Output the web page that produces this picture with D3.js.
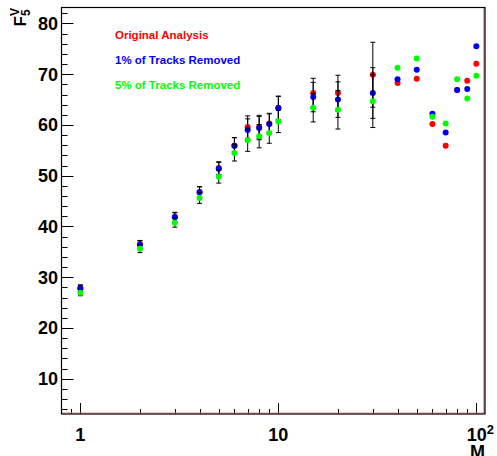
<!DOCTYPE html>
<html>
<head>
<meta charset="utf-8">
<script src="https://cdn.jsdelivr.net/npm/d3@7"></script>
<style>
  body { margin: 0; background: #fff; }
  text { font-family: "Liberation Sans", Arial, sans-serif; font-weight: bold; }
</style>
</head>
<body>
<div id="chart"></div>
<script>
// masses (x values, log axis)
var masses = [1, 2, 3, 4, 5, 6, 7, 8, 9, 10, 15, 20, 30, 40, 50, 60, 70, 80, 90, 100];

// F5V values for each analysis
var originalVals = [27.9, 36.5, 41.9, 46.8, 51.5, 55.9, 59.6, 59.6, 60.3, 63.4, 66.3, 66.3, 69.9, 68.25, 69.1, 60.2, 55.9, 66.9, 68.7, 72.05];
var removed1Vals = [27.8, 36.4, 41.8, 46.75, 51.4, 55.9, 59.0, 59.4, 60.2, 63.3, 65.5, 65.0, 66.3, 69.0, 70.9, 62.2, 58.5, 66.9, 67.1, 75.5];
var removed5Vals = [26.95, 35.6, 40.76, 45.6, 49.8, 54.5, 57.0, 57.8, 58.4, 60.7, 63.4, 63.0, 64.7, 71.3, 73.1, 61.6, 60.3, 69.0, 65.2, 69.7];

// symmetric errors (0 = no error bar drawn)
var originalErr = [0.6, 0.75, 0.9, 1.05, 1.25, 1.6, 2.2, 2.3, 2.0, 2.3, 2.9, 3.5, 6.4, 0, 0, 0, 0, 0, 0, 0];
var removed1Err = [0.6, 0.75, 0.9, 1.05, 1.25, 1.6, 2.2, 2.3, 2.0, 2.3, 2.9, 3.5, 5.0, 0, 0, 0, 0, 0, 0, 0];
var removed5Err = [0.6, 0.75, 0.9, 1.05, 1.25, 1.6, 2.2, 2.3, 2.0, 2.2, 2.8, 3.8, 5.2, 0, 0, 0, 0, 0, 0, 0];

var seriesNames = ["Original Analysis", "1% of Tracks Removed", "5% of Tracks Removed"];
var seriesColors = ["#ff0000", "#0000ff", "#00ff00"];

var yTicks = [10, 20, 30, 40, 50, 60, 70, 80];
var xTickLabels = [1, 10, 100];

var width = 497, height = 456;
var frame = {left: 61.5, right: 485, top: 7.5, bottom: 414};

var svg = d3.select("#chart")
  .append("svg")
    .attr("width", width)
    .attr("height", height);

var x = d3.scaleLog()
  .domain([0.803, 110.6])
  .range([frame.left, frame.right]);

var y = d3.scaleLinear()
  .domain([3.05, 83.15])
  .range([frame.bottom, frame.top]);

// Y axis ticks: major every 10, minor every 2
var yMinor = d3.range(4, 84, 2);
svg.append("g").selectAll("line")
  .data(yMinor)
  .enter().append("line")
    .attr("x1", frame.left)
    .attr("x2", function(d) { return frame.left + (d % 10 == 0 ? 12 : 6); })
    .attr("y1", function(d) { return Math.round(y(d)) + 0.5; })
    .attr("y2", function(d) { return Math.round(y(d)) + 0.5; })
    .style("stroke", "#000")
    .style("stroke-width", 1);

svg.append("g").selectAll("text")
  .data(yTicks)
  .enter().append("text")
    .attr("x", 58)
    .attr("y", function(d) { return y(d) + 6.5; })
    .attr("text-anchor", "end")
    .style("font-size", "18px")
    .text(function(d) { return d; });

// X axis ticks (log)
var xMinor = [0.9].concat(d3.range(2, 10), d3.range(20, 100, 10));
svg.append("g").selectAll("line")
  .data(xMinor.concat(xTickLabels))
  .enter().append("line")
    .attr("x1", function(d) { return Math.round(x(d)) + 0.5; })
    .attr("x2", function(d) { return Math.round(x(d)) + 0.5; })
    .attr("y1", frame.bottom)
    .attr("y2", function(d) { return frame.bottom - (xTickLabels.indexOf(d) >= 0 ? 11 : 5); })
    .style("stroke", "#000")
    .style("stroke-width", 1);

svg.append("text").attr("x", x(1)).attr("y", 441)
  .attr("text-anchor", "middle").style("font-size", "18px").text("1");
svg.append("text").attr("x", x(10)).attr("y", 441)
  .attr("text-anchor", "middle").style("font-size", "18px").text("10");
var hundred = svg.append("text").attr("x", x(100) + 4).attr("y", 441)
  .attr("text-anchor", "middle").style("font-size", "18px");
hundred.append("tspan").text("10");
hundred.append("tspan").attr("dy", -7).style("font-size", "13px").text("2");

// axis titles
svg.append("text")
  .attr("x", frame.right)
  .attr("y", 458)
  .attr("text-anchor", "end")
  .style("font-size", "18px")
  .text("M");

var ytitle = svg.append("text")
  .attr("transform", "translate(26,8) rotate(-90)")
  .attr("text-anchor", "end")
  .style("font-size", "17px");
ytitle.append("tspan").text("F");
ytitle.append("tspan").attr("dy", -7).style("font-size", "12px").text("V");
ytitle.append("tspan").attr("dx", -8).attr("dy", 11).style("font-size", "12px").text("5");

// data series: error bars then markers, one graph at a time
var allVals = [originalVals, removed1Vals, removed5Vals];
var allErrs = [originalErr, removed1Err, removed5Err];

allVals.forEach(function(vals, s) {
  var pts = masses.map(function(m, i) { return {m: m, v: vals[i], e: allErrs[s][i]}; });
  var g = svg.append("g");
  var withErr = pts.filter(function(d) { return d.e > 0; });

  g.selectAll(".ebar")
    .data(withErr)
    .enter().append("line")
      .attr("x1", function(d) { return x(d.m); })
      .attr("x2", function(d) { return x(d.m); })
      .attr("y1", function(d) { return y(d.v + d.e); })
      .attr("y2", function(d) { return y(d.v - d.e); })
      .style("stroke", "#000")
      .style("stroke-width", 1);

  [1, -1].forEach(function(sign) {
    g.selectAll(".cap" + sign)
      .data(withErr)
      .enter().append("line")
        .attr("x1", function(d) { return x(d.m) - 2.5; })
        .attr("x2", function(d) { return x(d.m) + 2.5; })
        .attr("y1", function(d) { return y(d.v + sign * d.e); })
        .attr("y2", function(d) { return y(d.v + sign * d.e); })
        .style("stroke", "#000")
        .style("stroke-width", 1);
  });

  g.selectAll("circle")
    .data(pts)
    .enter().append("circle")
      .attr("cx", function(d) { return x(d.m); })
      .attr("cy", function(d) { return y(d.v); })
      .attr("r", 3)
      .style("fill", seriesColors[s]);
});

// legend
var legendY = [39, 64, 88.5];
seriesNames.forEach(function(name, i) {
  svg.append("text")
    .attr("x", 115)
    .attr("y", legendY[i])
    .style("font-size", "11.5px")
    .style("fill", seriesColors[i])
    .text(name);
});

// frame
svg.append("line")
  .attr("x1", frame.left).attr("x2", frame.right - 1)
  .attr("y1", frame.bottom - 1).attr("y2", frame.bottom - 1)
  .style("stroke", "#e88").style("stroke-width", 1);
svg.append("line")
  .attr("x1", frame.right - 1).attr("x2", frame.right - 1)
  .attr("y1", frame.top).attr("y2", frame.bottom - 1)
  .style("stroke", "#e44").style("stroke-width", 1);
svg.append("rect")
  .attr("x", frame.left)
  .attr("y", frame.top)
  .attr("width", frame.right - frame.left)
  .attr("height", frame.bottom - frame.top)
  .style("fill", "none")
  .style("stroke", "#000")
  .style("stroke-width", 1.2);
</script>
</body>
</html>
